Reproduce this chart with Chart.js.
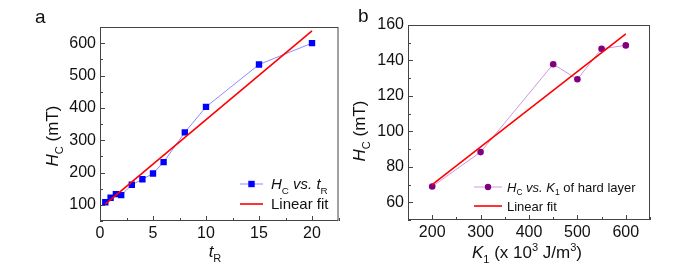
<!DOCTYPE html>
<html>
<head>
<meta charset="utf-8">
<script src="https://cdn.jsdelivr.net/npm/chart.js@4"></script>
<style>
  html, body { margin: 0; padding: 0; background: #fff; }
  #wrap { position: relative; width: 687px; height: 278px; }
  canvas { position: absolute; top: 0; }
</style>
</head>
<body>
<div id="wrap">
  <canvas id="chartA" width="343" height="278" style="left:0"></canvas>
  <canvas id="chartB" width="344" height="278" style="left:343px"></canvas>
</div>
<script>
// Panel a: Hc vs tR
const tR = [0.5, 1, 1.5, 2, 3, 4, 5, 6, 8, 10, 15, 20];
const hcA = [108, 122, 133, 130, 162, 179, 197, 232, 324, 403, 534, 600];
const fitAx = [0.5, 20];
const fitAy = [102, 638];
const xTicksA = [0, 5, 10, 15, 20];
const yTicksA = [100, 200, 300, 400, 500, 600];

// Panel b: Hc vs K1
const k1 = [200, 300, 450, 500, 550, 600];
const hcB = [68.9, 88.3, 137.9, 129.4, 146.6, 148.5];
const fitBx = [200, 600];
const fitBy = [70, 155];
const xTicksB = [200, 300, 400, 500, 600];
const yTicksB = [60, 80, 100, 120, 140, 160];

const FONT = '"Liberation Sans", Arial, sans-serif';

// texte avec indices / exposants
function richWidth(ctx, segs, size) {
  let w = 0;
  segs.forEach((s) => {
    const fs = s.sub || s.sup ? size * 0.65 : size;
    ctx.font = (s.it ? "italic " : "") + fs + "px " + FONT;
    w += ctx.measureText(s.t).width;
  });
  return w;
}
function drawRich(ctx, segs, x, y, size, align) {
  let cx = align === "center" ? x - richWidth(ctx, segs, size) / 2 : x;
  ctx.textBaseline = "alphabetic";
  ctx.textAlign = "left";
  segs.forEach((s) => {
    const fs = s.sub || s.sup ? size * 0.65 : size;
    ctx.font = (s.it ? "italic " : "") + fs + "px " + FONT;
    let dy = 0;
    if (s.sub) dy = size * 0.28;
    if (s.sup) dy = -size * 0.42;
    ctx.fillText(s.t, cx, y + dy);
    cx += ctx.measureText(s.t).width;
  });
}

function fixedTicks(vals) {
  return (scale) => {
    scale.ticks = vals.map((v) => ({ value: v }));
  };
}

const decoPlugin = {
  id: "deco",
  afterDraw(chart, args, opts) {
    const ctx = chart.ctx;
    const a = chart.chartArea;
    const xs = chart.scales.x;
    const ys = chart.scales.y;
    ctx.save();
    ctx.strokeStyle = "#444";
    ctx.lineWidth = 1;
    ctx.strokeRect(a.left + 0.5, a.top + 0.5, a.right - a.left - 1, a.bottom - a.top - 1);

    // graduations vers l'intérieur
    ctx.beginPath();
    const tickX = (v, len) => {
      const p = Math.round(xs.getPixelForValue(v)) + 0.5;
      ctx.moveTo(p, a.bottom);
      ctx.lineTo(p, a.bottom - len);
    };
    const tickY = (v, len) => {
      const p = Math.round(ys.getPixelForValue(v)) + 0.5;
      ctx.moveTo(a.left, p);
      ctx.lineTo(a.left + len, p);
    };
    for (let v = xs.min; v <= xs.max + 1e-9; v += opts.xMinor) {
      const major = opts.xMajor.some((m) => Math.abs(m - v) < 1e-9);
      tickX(v, major ? 5 : 3);
    }
    for (let v = ys.min; v <= ys.max + 1e-9; v += opts.yMinor) {
      const major = opts.yMajor.some((m) => Math.abs(m - v) < 1e-9);
      tickY(v, major ? 5 : 3);
    }
    ctx.stroke();

    ctx.fillStyle = "#111";
    // lettre du panneau
    ctx.font = "19px " + FONT;
    ctx.textAlign = "left";
    ctx.textBaseline = "alphabetic";
    ctx.fillText(opts.letter.t, opts.letter.x, opts.letter.y);

    // titres des axes
    drawRich(ctx, opts.xTitle.segs, opts.xTitle.x, opts.xTitle.y, 17, "center");
    ctx.save();
    ctx.translate(opts.yTitle.x, opts.yTitle.y);
    ctx.rotate(-Math.PI / 2);
    drawRich(ctx, opts.yTitle.segs, 0, 0, 17, "center");
    ctx.restore();

    // légende
    const lg = opts.legend;
    lg.rows.forEach((r) => {
      ctx.strokeStyle = r.color;
      ctx.lineWidth = r.lw;
      ctx.beginPath();
      ctx.moveTo(lg.x0, r.y);
      ctx.lineTo(lg.x1, r.y);
      ctx.stroke();
      if (r.marker === "rect") {
        ctx.fillStyle = r.mColor;
        ctx.fillRect((lg.x0 + lg.x1) / 2 - 3.2, r.y - 3.2, 6.4, 6.4);
      } else if (r.marker === "circle") {
        ctx.fillStyle = r.mColor;
        ctx.beginPath();
        ctx.arc((lg.x0 + lg.x1) / 2, r.y, 3.2, 0, Math.PI * 2);
        ctx.fill();
      }
      ctx.fillStyle = "#111";
      drawRich(ctx, r.segs, lg.tx, r.y + lg.size * 0.36, lg.size, "left");
    });
    ctx.restore();
  },
};

function makeOptions(xr, yr, xTicks, yTicks, xAxisH, yAxisW, padding, fontSize, deco) {
  const tickFont = { family: FONT, size: fontSize };
  return {
    responsive: false,
    animation: false,
    layout: { padding: padding },
    plugins: { legend: { display: false }, tooltip: { enabled: false }, deco: deco },
    scales: {
      x: {
        type: "linear",
        min: xr[0],
        max: xr[1],
        afterBuildTicks: fixedTicks(xTicks),
        afterFit: (s) => { s.height = xAxisH; },
        grid: { display: false, drawTicks: false },
        border: { display: false },
        ticks: { color: "#111", font: tickFont, padding: 3, maxRotation: 0 },
      },
      y: {
        type: "linear",
        min: yr[0],
        max: yr[1],
        afterBuildTicks: fixedTicks(yTicks),
        afterFit: (s) => { s.width = yAxisW; },
        grid: { display: false, drawTicks: false },
        border: { display: false },
        ticks: { color: "#111", font: tickFont, padding: 4 },
      },
    },
  };
}

// Panneau a
new Chart(document.getElementById("chartA"), {
  type: "scatter",
  data: {
    datasets: [
      {
        label: "Linear fit",
        data: fitAx.map((x, i) => ({ x: x, y: fitAy[i] })),
        showLine: true,
        borderColor: "#ff0000",
        borderWidth: 1.6,
        pointRadius: 0,
      },
      {
        label: "Hc vs. tR",
        data: tR.map((x, i) => ({ x: x, y: hcA[i] })),
        showLine: true,
        borderColor: "#8c8cff",
        borderWidth: 1,
        pointStyle: "rect",
        pointRadius: 4.5,
        backgroundColor: "#0000ff",
        pointBorderWidth: 0,
      },
    ],
  },
  options: makeOptions([0, 22.5], [50, 650], xTicksA, yTicksA, 57, 100,
    { left: 0, top: 27, right: 2, bottom: 0 }, 16, {
      letter: { t: "a", x: 35, y: 23 },
      xMajor: xTicksA, xMinor: 2.5,
      yMajor: yTicksA, yMinor: 50,
      xTitle: { x: 215, y: 257, segs: [{ t: "t", it: true }, { t: "R", sub: true }] },
      yTitle: { x: 58, y: 136, segs: [{ t: "H", it: true }, { t: "C", sub: true }, { t: " (mT)" }] },
      legend: {
        x0: 240, x1: 263, tx: 271, size: 15,
        rows: [
          { y: 184, color: "#8c8cff", lw: 1, marker: "rect", mColor: "#0000ff",
            segs: [{ t: "H", it: true }, { t: "C", sub: true }, { t: " vs. ", it: true }, { t: "t", it: true }, { t: "R", sub: true }] },
          { y: 204, color: "#ff0000", lw: 1.6, segs: [{ t: "Linear fit" }] },
        ],
      },
    }),
  plugins: [decoPlugin],
});

// Panneau b
new Chart(document.getElementById("chartB"), {
  type: "scatter",
  data: {
    datasets: [
      {
        label: "Linear fit",
        data: fitBx.map((x, i) => ({ x: x, y: fitBy[i] })),
        showLine: true,
        borderColor: "#ff0000",
        borderWidth: 1.6,
        pointRadius: 0,
      },
      {
        label: "Hc vs. K1 of hard layer",
        data: k1.map((x, i) => ({ x: x, y: hcB[i] })),
        showLine: true,
        borderColor: "#cc99dd",
        borderWidth: 1,
        pointStyle: "circle",
        pointRadius: 3.3,
        backgroundColor: "#800080",
        pointBorderWidth: 0,
      },
    ],
  },
  options: makeOptions([150, 650], [50, 160], xTicksB, yTicksB, 58, 65,
    { left: 0, top: 25, right: 37, bottom: 0 }, 16, {
      letter: { t: "b", x: 15, y: 22 },
      xMajor: xTicksB, xMinor: 50,
      yMajor: yTicksB, yMinor: 10,
      xTitle: { x: 184, y: 258, segs: [
        { t: "K", it: true }, { t: "1", sub: true }, { t: " (x 10" }, { t: "3", sup: true },
        { t: " J/m" }, { t: "3", sup: true }, { t: ")" }] },
      yTitle: { x: 22, y: 131, segs: [{ t: "H", it: true }, { t: "C", sub: true }, { t: " (mT)" }] },
      legend: {
        x0: 131, x1: 159, tx: 164, size: 13,
        rows: [
          { y: 187, color: "#cc99dd", lw: 1, marker: "circle", mColor: "#800080",
            segs: [{ t: "H", it: true }, { t: "C", sub: true }, { t: " vs. ", it: true }, { t: "K", it: true },
              { t: "1", sub: true }, { t: " of hard layer" }] },
          { y: 206, color: "#ff0000", lw: 1.6, segs: [{ t: "Linear fit" }] },
        ],
      },
    }),
  plugins: [decoPlugin],
});
</script>
</body>
</html>
